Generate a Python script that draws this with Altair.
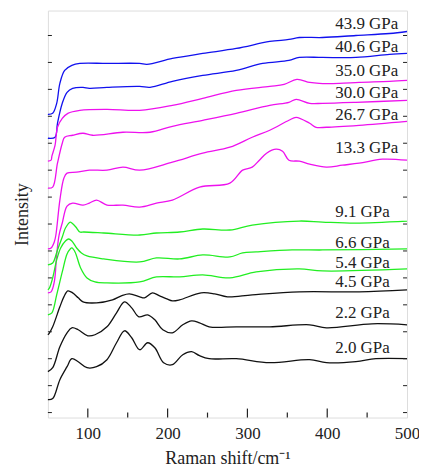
import altair as alt
import pandas as pd

labels = ["43.9 GPa", "40.6 GPa", "35.0 GPa", "30.0 GPa", "26.7 GPa", "13.3 GPa",
          "9.1 GPa", "6.6 GPa", "5.4 GPa", "4.5 GPa", "2.2 GPa", "2.0 GPa"]
colors = ["#1111ee", "#1111ee", "#ee11ee", "#ee11ee", "#ee11ee", "#ee11ee",
          "#22ee22", "#22ee22", "#22ee22", "#111111", "#111111", "#111111"]

x_439 = [50, 56, 61, 65, 71, 80, 90, 124, 165, 174, 206, 244, 286, 328, 352, 365, 394, 436, 478, 500]
y_439 = [304, 305, 315, 335, 348, 353, 355, 355, 355, 354, 360, 365, 370, 377, 379, 381, 381, 383, 385, 387]

x_406 = [50, 59, 62, 68, 74, 81, 94, 102, 124, 165, 178, 206, 244, 286, 319, 352, 365, 394, 436, 478, 500]
y_406 = [280, 281, 295, 315, 326, 330, 331, 330, 331, 332, 331, 337, 343, 348, 355, 358, 361, 361, 361, 364, 365]

x_350 = [50, 54, 55, 59, 62, 68, 75, 90, 124, 165, 206, 244, 286, 328, 346, 362, 378, 390, 415, 440, 478, 500]
y_350 = [257, 258, 262, 273, 291, 300, 305, 308, 309, 308, 313, 320, 328, 332, 334, 339, 336, 335, 335, 336, 337, 338]

x_300 = [50, 56, 62, 68, 71, 81, 94, 106, 144, 178, 206, 244, 286, 328, 352, 361, 378, 394, 436, 500]
y_300 = [230, 231, 255, 275, 281, 283, 285, 283, 286, 286, 292, 298, 305, 313, 316, 319, 315, 315, 316, 318]

x_267 = [50, 54, 58, 60, 65, 70, 74, 86, 102, 124, 144, 165, 206, 244, 278, 306, 328, 352, 361, 378, 386, 399, 440, 500]
y_267 = [169, 170, 176, 183, 218, 240, 245, 246, 248, 248, 251, 248, 256, 265, 271, 281, 288, 298, 301, 295, 291, 291, 293, 297]

x_133 = [50, 54, 58, 61, 64, 68, 74, 81, 94, 102, 111, 124, 144, 165, 186, 206, 240, 278, 294, 306, 315, 324, 336,
         344, 352, 365, 378, 399, 419, 440, 469, 500]
y_133 = [125, 126, 136, 163, 183, 195, 212, 215, 213, 215, 218, 213, 213, 211, 215, 218, 231, 235, 248, 251, 258, 265, 269,
         267, 258, 257, 254, 251, 253, 255, 259, 258]

x_91 = [50, 56, 62, 68, 72, 78, 80, 85, 90, 95, 120, 165, 186, 215, 244, 278, 306, 365, 394, 436, 500]
y_91 = [153, 155, 168, 181, 190, 196, 195, 191, 186, 186, 185, 183, 185, 186, 189, 188, 193, 197, 196, 195, 197]

x_66 = [50, 52, 56, 61, 66, 72, 76, 80, 86, 92, 99, 120, 165, 186, 215, 244, 278, 294, 311, 356, 394, 500]
y_66 = [128, 130, 140, 158, 170, 177, 179, 177, 170, 165, 162, 159, 156, 160, 159, 163, 161, 165, 166, 168, 168, 169]

x_54 = [50, 55, 61, 68, 74, 78, 80, 84, 91, 99, 109, 124, 165, 186, 215, 244, 278, 311, 365, 394, 500]
y_54 = [103, 105, 123, 146, 164, 169, 170, 166, 150, 140, 136, 135, 136, 141, 141, 143, 140, 146, 149, 147, 149]

x_45 = [50, 52, 56, 65, 70, 75, 81, 88, 94, 111, 131, 142, 152, 165, 171, 181, 190, 199, 206, 215, 242, 259, 275,
        306, 365, 440, 500]
y_45 = [83, 85, 91, 111, 121, 127, 125, 120, 116, 115, 118, 122, 124, 121, 120, 125, 122, 119, 117, 118, 125, 124, 121,
        123, 126, 126, 128]

x_22 = [50, 56, 65, 74, 80, 88, 100, 109, 124, 136, 146, 155, 164, 175, 184, 194, 206, 219, 230, 240, 252, 286, 328,
        378, 399, 456, 500]
y_22 = [46, 50, 71, 85, 90, 88, 82, 83, 91, 105, 116, 110, 101, 103, 98, 88, 85, 93, 97, 95, 91, 91, 91,
        93, 90, 94, 93]

x_20 = [50, 56, 65, 74, 80, 88, 99, 111, 124, 136, 146, 155, 165, 175, 184, 195, 206, 219, 230, 240, 252, 286, 328,
        378, 399, 436, 461, 500]
y_20 = [18, 19, 38, 51, 59, 56, 50, 51, 58, 75, 87, 80, 68, 75, 70, 55, 53, 63, 66, 62, 59, 59, 55,
        58, 55, 56, 59, 59]

label_x = 410
label_y = [395, 371, 347, 325, 303, 270, 206, 175, 155, 136, 105, 70]

x_major = [100, 200, 300, 400]
x_minor = [150, 250, 350, 450]
y_ticks = [5, 32, 59, 86, 113, 140, 167, 194, 221, 248, 275, 302, 329, 356, 383]

series = [(x_439, y_439), (x_406, y_406), (x_350, y_350), (x_300, y_300), (x_267, y_267), (x_133, y_133),
          (x_91, y_91), (x_66, y_66), (x_54, y_54), (x_45, y_45), (x_22, y_22), (x_20, y_20)]

rows = []
for lab, (xs, ys) in zip(labels, series):
    for i, (a, b) in enumerate(zip(xs, ys)):
        rows.append({"p": lab, "x": a, "y": b, "i": i})
df = pd.DataFrame(rows)
lab_df = pd.DataFrame({"p": labels, "x": [label_x] * len(labels), "y": label_y})

SERIF = "Liberation Serif"
xscale = alt.Scale(domain=[50, 500], nice=False, zero=False)
yscale = alt.Scale(domain=[0, 408], nice=False, zero=False)
W, H = 360, 408

lines = alt.Chart(df).mark_line(strokeWidth=1.3, interpolate="catmull-rom").encode(
    x=alt.X("x:Q", scale=xscale,
            axis=alt.Axis(values=[100, 200, 300, 400, 500], title="Raman shift/cm⁻¹", ticks=False,
                          domain=False, grid=False, labelFont=SERIF, labelFontSize=17, labelFlush=False,
                          labelColor="#222", labelPadding=8, titleFont=SERIF,
                          titleFontSize=18, titleFontWeight="normal", titleColor="#222", titlePadding=8)),
    y=alt.Y("y:Q", scale=yscale,
            axis=alt.Axis(labels=False, ticks=False, domain=False, grid=False, title="Intensity",
                          titleFont=SERIF, titleFontSize=18, titleFontWeight="normal",
                          titleColor="#222", titlePadding=16)),
    color=alt.Color("p:N", scale=alt.Scale(domain=labels, range=colors), legend=None),
    order="i:Q",
)

texts = alt.Chart(lab_df).mark_text(align="left", baseline="middle", font=SERIF,
                                    fontSize=17, color="#222").encode(
    x=alt.X("x:Q", scale=xscale), y=alt.Y("y:Q", scale=yscale), text="p:N")

maj = alt.Chart(pd.DataFrame({"v": x_major})).mark_rule(color="#222", strokeWidth=1.2).encode(
    x=alt.X("v:Q", scale=xscale), y=alt.value(H), y2=alt.value(H - 9))
mnr = alt.Chart(pd.DataFrame({"v": x_minor})).mark_rule(color="#222", strokeWidth=1.2).encode(
    x=alt.X("v:Q", scale=xscale), y=alt.value(H), y2=alt.value(H - 5))
yl = alt.Chart(pd.DataFrame({"v": y_ticks})).mark_rule(color="#222", strokeWidth=1).encode(
    y=alt.Y("v:Q", scale=yscale), x=alt.value(0), x2=alt.value(4))
yr = alt.Chart(pd.DataFrame({"v": y_ticks})).mark_rule(color="#222", strokeWidth=1).encode(
    y=alt.Y("v:Q", scale=yscale), x=alt.value(W), x2=alt.value(W - 4))

chart = alt.layer(lines, texts, maj, mnr, yl, yr).properties(
    width=W, height=H,
    autosize=alt.AutoSizeParams(type="none"),
    padding={"left": 40, "top": 2, "right": 12, "bottom": 50},
).configure_view(stroke="#222", strokeWidth=1.3).configure(font=SERIF)

chart.save("out.html", embed_options={"renderer": "svg", "actions": False})
